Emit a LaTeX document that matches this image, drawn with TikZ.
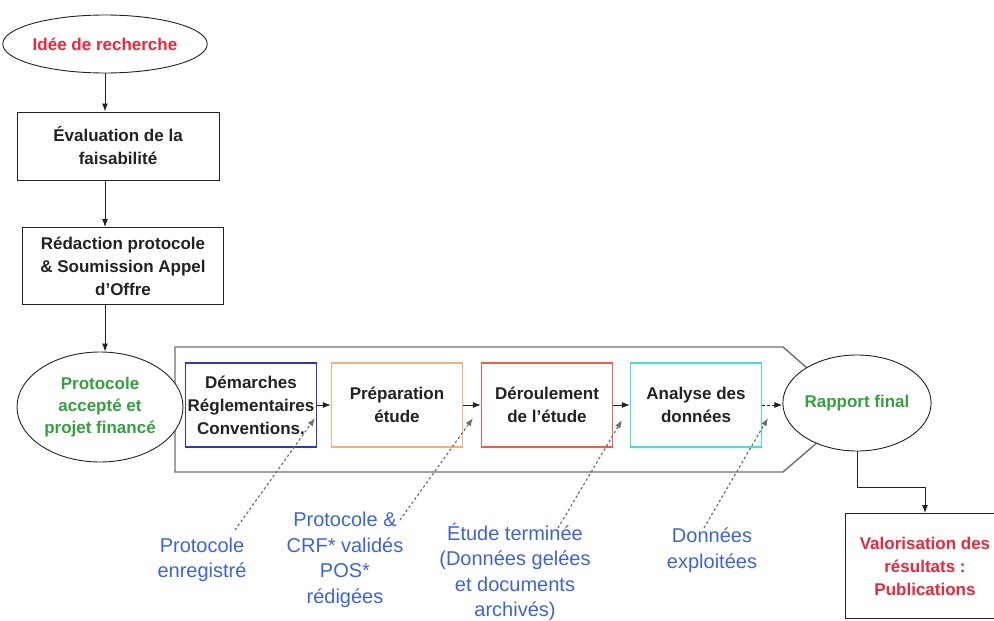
\documentclass[tikz,border=0pt]{standalone}
\usepackage{fontspec}
\setmainfont{Liberation Sans}
\usetikzlibrary{arrows.meta,shapes.geometric,calc}
\definecolor{ink}{HTML}{222222}
\definecolor{flame}{HTML}{E8283C}
\definecolor{leaf}{HTML}{36A040}
\definecolor{azure}{HTML}{3E63D8}
\definecolor{indigo}{HTML}{3434C4}
\definecolor{peach}{HTML}{F4B07A}
\definecolor{coral}{HTML}{E4604C}
\definecolor{aqua}{HTML}{44E0D4}
\definecolor{slate}{HTML}{6E6E6E}

\begin{document}
\begin{tikzpicture}[x=1pt,y=-1pt,
  every node/.style={align=center,inner sep=0pt},
  stage/.style={draw=ink,line width=0.9pt,fill=white,font=\fontsize{17}{23}\selectfont\bfseries,text=ink},
  oval/.style={ellipse,draw=ink,line width=0.9pt,fill=white,font=\fontsize{17}{22}\selectfont\bfseries},
  phase/.style={draw=#1,line width=1.2pt,fill=white,minimum width=131pt,minimum height=84pt,
    font=\fontsize{17}{23}\selectfont\bfseries,text=ink},
  note/.style={text=azure,font=\fontsize{20}{25.5}\selectfont},
  flow/.style={-{Latex[length=8pt,width=6pt]},line width=1pt,ink},
  hint/.style={-{Latex[length=8pt,width=6pt]},line width=1.2pt,slate,dash pattern=on 2.5pt off 2.5pt}]
  \useasboundingbox (0,0) rectangle (994,621);
  \clip (0,0) rectangle (994,621);
  % the way in: idea, feasibility, protocol
  \node[oval,text=flame,minimum width=194pt,minimum height=58pt] (idee) at (105,44) {Idée de recherche};
  \node[stage,minimum width=202pt,minimum height=68pt] (evalu) at (118,146) {Évaluation de la\\faisabilité};
  \node[stage,minimum width=201pt,minimum height=77pt] (redac) at (123,266) {Rédaction protocole\\\& Soumission Appel\\d’Offre};
  % the study itself, inside the big arrow
  \draw[slate,line width=1.4pt] (175,347) -- (783,347) -- (855,410) -- (783,472) -- (175,472) -- cycle;
  \node[oval,text=leaf,minimum width=166pt,minimum height=110pt] (proto) at (100,407) {Protocole\\accepté et\\projet financé};
  \node[phase=indigo] (demar) at (251,405) {Démarches\\Réglementaires\\Conventions.};
  \node[phase=peach] (prepa) at (397,405) {Préparation\\étude};
  \node[phase=coral] (derou) at (547,405) {Déroulement\\de l’étude};
  \node[phase=aqua] (analy) at (696,405) {Analyse des\\données};
  \node[oval,text=leaf,minimum width=141pt,minimum height=96pt] (rapport) at (857,403) {Rapport final};
  \node[stage,text=flame,minimum width=160pt,minimum height=105pt] (valo) at (925,566) {Valorisation des\\résultats :\\Publications};
  \draw[flow] (idee.south) -- (evalu.north -| idee);
  \draw[flow] (evalu.south -| idee) -- (redac.north -| idee);
  \draw[flow] (redac.south -| idee) -- (proto.north -| idee);
  \draw[flow] (demar.east) -- (prepa.west);
  \draw[flow] (prepa.east) -- (derou.west);
  \draw[flow] (derou.east) -- (analy.west);
  \draw[flow,dash pattern=on 3pt off 2pt] (analy.east) -- (analy.east -| rapport.west);
  \draw[flow] (rapport.south) -- ++(0,36) -| (valo.north);
  % milestones under the phases
  \node[note] (jalon1) at (202,560) {Protocole\\enregistré};
  \node[note] (jalon2) at (345,560) {Protocole \&\\CRF* validés\\POS*\\rédigées};
  \node[note] (jalon3) at (515,572) {Étude terminée\\(Données gelées\\et documents\\archivés)};
  \node[note] (jalon4) at (712,550) {Données\\exploitées};
  \coordinate (cible1) at (315,418);
  \coordinate (cible2) at (473,418);
  \coordinate (cible3) at (622,420);
  \coordinate (cible4) at (768,418);
  \draw[hint] ([shift={(33,-30)}]jalon1.center) -- (cible1);
  \draw[hint] ([shift={(55,-40)}]jalon2.center) -- (cible2);
  \draw[hint] ([shift={(43,-44)}]jalon3.center) -- (cible3);
  \draw[hint] ([shift={(-8,-22)}]jalon4.center) -- (cible4);
\end{tikzpicture}
\end{document}
